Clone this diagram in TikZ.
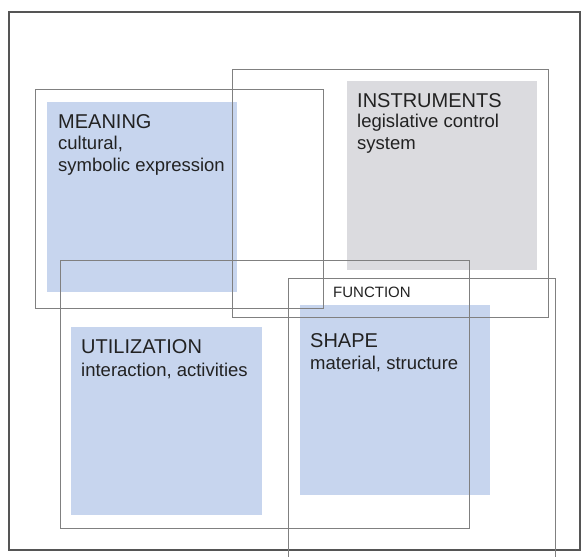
\documentclass[tikz,border=0pt]{standalone}
\usepackage{fontspec}
\setmainfont{Liberation Sans}
\usetikzlibrary{positioning}
\definecolor{fillblue}{HTML}{C7D5EE}
\definecolor{fillgray}{HTML}{DBDBDF}
\definecolor{framegray}{HTML}{555555}
\definecolor{linegray}{HTML}{808080}
\definecolor{textdark}{HTML}{222222}

\begin{document}
\begin{tikzpicture}[x=1pt,y=-1pt,
    area/.style={draw=linegray, line width=1pt},
    head/.style={anchor=base west, inner sep=0pt, text=textdark,
      font=\fontsize{20}{22}\selectfont},
    body/.style={anchor=base west, inner sep=0pt, text=textdark, align=left,
      font=\fontsize{18.5}{22}\selectfont}]
    \useasboundingbox (0,0) rectangle (582,557);

      % Fields
      \fill[fillblue] (47,102) rectangle (237,292);
      \fill[fillgray] (347,81) rectangle (537,270);
      \fill[fillblue] (71,327) rectangle (262,515);
      \fill[fillblue] (300,305) rectangle (490,495);

      % Border
      \draw[framegray, line width=2pt] (9,12) rectangle (580,550);

      % Frames
      \draw[area] (35,89) rectangle (323,308);
      \draw[area] (232,69) rectangle (548,317);
      \draw[area] (60,260) rectangle (469,528);
      \draw[area] (288,557) -- (288,278) -- (555,278) -- (555,557);

      % Labels (base of a two-line node is its last line)
      \node[head] (meaning) at (58,128) {MEANING};
      \node[body] (meaningtext) at (58,171) {cultural,\\symbolic expression};

      \node[head] (instruments) at (357,107) {INSTRUMENTS};
      \node[body] (instrumentstext) at (357,149) {legislative control\\system};

      \node[head] (utilization) at (81,353) {UTILIZATION};
      \node[body] (utilizationtext) at (81,376) {interaction, activities};

      \node[head] (shape) at (310,347) {SHAPE};
      \node[body] (shapetext) at (310,369) {material, structure};

      \node[head, font=\fontsize{15}{17}\selectfont] (function) at (333,297) {FUNCTION};
  \end{tikzpicture}
\end{document}
